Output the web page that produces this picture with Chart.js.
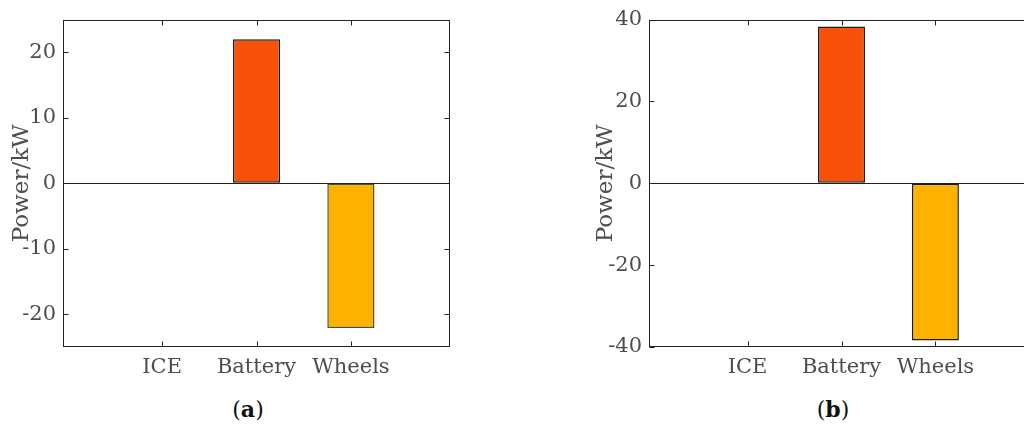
<!DOCTYPE html>
<html>
<head>
<meta charset="utf-8">
<script src="https://cdn.jsdelivr.net/npm/chart.js@4"></script>
<style>
  body { margin: 0; width: 1024px; height: 427px; overflow: hidden; background: #fff; position: relative; }
  canvas { position: absolute; top: 0; }
  #chartA { left: 0; }
  #chartB { left: 512px; }
  .cap { position: absolute; top: 396px; width: 80px; text-align: center; font-family: "DejaVu Serif", serif; font-size: 22px; color: #111; }
</style>
</head>
<body>
<canvas id="chartA" width="512" height="390"></canvas>
<canvas id="chartB" width="536" height="390"></canvas>
<div class="cap" style="left:208px">(<b>a</b>)</div>
<div class="cap" style="left:793px">(<b>b</b>)</div>
<script>
// Dados
const categories = ["ICE", "Battery", "Wheels"];
const powerA = [0, 22.0, -22.1];
const powerB = [0, 38.3, -38.4];
const ticksA = [-20, -10, 0, 10, 20];
const ticksB = [-40, -20, 0, 20, 40];
const rangeA = [-25, 25];
const rangeB = [-40, 40];

const barColors = ["#F85109", "#F85109", "#FEB200"];
const textGrey = "#4d4d4d";
const fontFam = "'DejaVu Serif', serif";

// Caixa + ticks para dentro (estilo MATLAB)
const boxPlugin = {
    id: "box",
    afterDatasetsDraw(chart) {
        const { ctx, chartArea: a, scales: { x, y } } = chart;
        const L = Math.round(a.left) + 0.5, R = Math.round(a.right) - 0.5;
        const T = Math.round(a.top) + 0.5, B = Math.round(a.bottom) - 0.5;
        ctx.save();
        ctx.strokeStyle = "#222";
        ctx.lineWidth = 1;
        ctx.strokeRect(L, T, R - L, B - T);
        ctx.beginPath();
        y.ticks.forEach(t => {
            const py = Math.round(y.getPixelForValue(t.value)) + 0.5;
            ctx.moveTo(L, py); ctx.lineTo(L + 5, py);
            ctx.moveTo(R, py); ctx.lineTo(R - 5, py);
        });
        x.ticks.forEach(t => {
            const px = Math.round(x.getPixelForValue(t.value)) + 0.5;
            ctx.moveTo(px, B); ctx.lineTo(px, B - 5);
            ctx.moveTo(px, T); ctx.lineTo(px, T + 5);
        });
        ctx.stroke();
        ctx.restore();
    }
};

function makeChart(id, values, yTicks, yRange, axisWidth, titlePad, padRight, borders) {
    return new Chart(document.getElementById(id), {
        type: "bar",
        data: {
            datasets: [{
                data: values.map((v, i) => ({ x: i + 1, y: v })),
                backgroundColor: barColors,
                borderColor: borders,
                borderWidth: 1.5,
                borderSkipped: false,
                barPercentage: 0.5,
                categoryPercentage: 1
            }]
        },
        options: {
            responsive: false,
            animation: false,
            layout: { padding: { top: 19, right: padRight, left: 0, bottom: 0 } },
            plugins: { legend: { display: false }, tooltip: { enabled: false } },
            scales: {
                x: {
                    type: "linear",
                    min: -0.05,
                    max: 4.05,
                    offset: false,
                    afterBuildTicks: s => { s.ticks = categories.map((c, i) => ({ value: i + 1 })); },
                    afterFit: s => { s.height = 43; },
                    grid: { display: false, offset: false, drawTicks: false },
                    border: { display: false },
                    ticks: {
                        padding: 8,
                        autoSkip: false,
                        maxRotation: 0,
                        color: textGrey,
                        font: { family: fontFam, size: 21 },
                        callback: v => categories[v - 1]
                    }
                },
                y: {
                    min: yRange[0],
                    max: yRange[1],
                    afterBuildTicks: s => { s.ticks = yTicks.map(v => ({ value: v })); },
                    afterFit: s => { s.width = axisWidth; },
                    grid: {
                        drawTicks: false,
                        color: c => c.tick && c.tick.value === 0 ? "#222" : "rgba(0,0,0,0)"
                    },
                    border: { display: false },
                    ticks: {
                        padding: 7,
                        color: textGrey,
                        font: { family: fontFam, size: 21 }
                    },
                    title: {
                        display: true,
                        text: "Power/kW",
                        color: textGrey,
                        padding: { top: titlePad, bottom: 0 },
                        font: { family: fontFam, size: 23 }
                    }
                }
            }
        },
        plugins: [boxPlugin]
    });
}

makeChart("chartA", powerA, ticksA, rangeA, 63, 8, 62, ["#1a1a1a", "#1a1a1a", "#5c4d2e"]);
makeChart("chartB", powerB, ticksB, rangeB, 137, 80, 14, ["#1a1a1a", "#1a1a1a", "#1a1a1a"]);
</script>
</body>
</html>
